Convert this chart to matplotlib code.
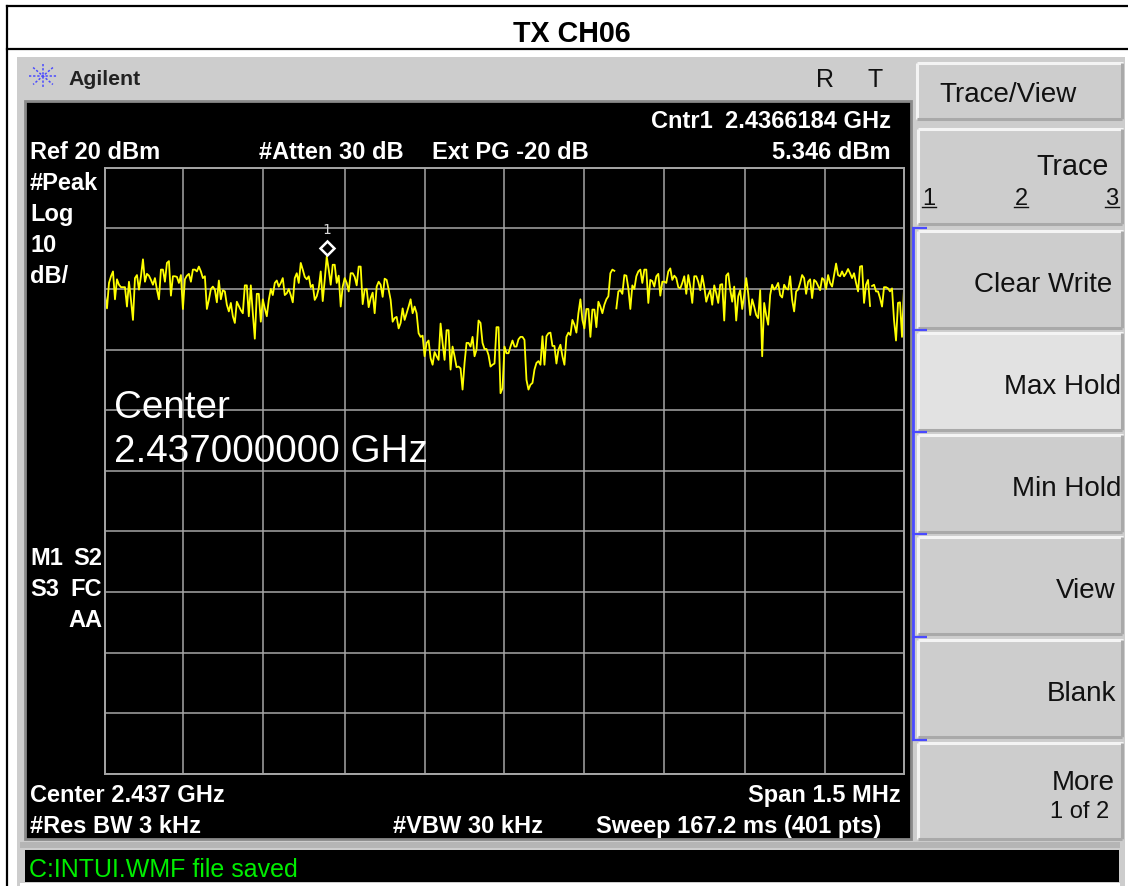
import numpy as np
import matplotlib
matplotlib.use('Agg')
import matplotlib.pyplot as plt
from matplotlib.patches import Rectangle
from matplotlib.transforms import ScaledTranslation

W, H = 1128, 887

# trace, dBm, one value per sweep point
trace_dbm = [
    -1.0, -3.2, 1.0, 2.1, 2.9, -1.7, 1.6, 0.7, 0.3, 0.3, 0.3, -2.9, 1.2, -1.8, -5.1, 1.8, 2.3, -0.1, 2.1, 4.9,
    1.2, 2.5, 2.2, 1.5, 0.7, 1.8, -0.1, -1.7, 3.2, 3.2, 1.2, 4.3, 4.6, -1.1, 2.1, 2.1, 2.0, 1.0, 2.3, -3.3,
    1.6, 2.2, 2.5, 1.2, 3.2, 3.2, 2.9, 3.7, 2.9, 1.8, 2.1, -3.3, -1.8, 0.0, 0.4, -0.1, -2.2, 1.4, -1.7, -0.2,
    -0.4, -2.6, -3.7, -2.3, -4.5, -5.6, -2.1, -2.8, -3.5, -4.0, 0.6, 0.6, -4.5, 0.6, -4.0, -8.2, -0.8, -0.8, -5.4, -1.7,
    -3.2, -4.5, -1.8, 0.0, -1.0, 1.0, 1.4, 0.4, 1.0, 1.8, -1.0, -0.7, 0.0, -1.0, -2.2, 1.8, 2.6, 1.0, 4.3, 3.2,
    2.0, 1.6, 2.1, 0.3, 0.7, -1.8, -1.2, 0.1, 2.9, -2.0, 1.5, 5.346, 3.2, 0.7, 4.0, 4.0, 1.0, 2.2, -2.9, 0.4,
    1.8, 1.0, -0.4, 2.6, 2.6, 2.0, 0.6, 3.7, 3.7, -2.5, -0.1, 0.0, -3.0, -1.5, -0.6, -4.0, 0.4, 1.2, 0.7, -1.3,
    1.7, 1.5, -0.1, -1.8, -5.4, -4.8, -4.6, -6.5, -5.6, -3.2, -5.1, -4.0, -2.9, -1.7, -4.0, -2.9, -4.0, -7.3, -7.9, -7.7,
    -11.1, -8.9, -8.5, -11.4, -12.5, -10.4, -11.1, -11.7, -5.7, -8.9, -11.7, -6.8, -6.8, -13.3, -9.5, -11.1, -12.9, -12.8, -13.1, -16.6,
    -12.2, -8.9, -8.9, -9.5, -7.9, -11.1, -10.0, -5.2, -5.6, -8.9, -9.9, -9.9, -10.9, -12.8, -12.5, -12.3, -6.3, -6.3, -17.2, -16.4,
    -9.5, -10.6, -10.6, -9.5, -8.5, -9.5, -9.5, -8.3, -7.9, -7.9, -8.4, -15.0, -16.6, -15.8, -15.5, -13.3, -12.2, -11.9, -12.5, -7.8,
    -12.5, -7.8, -7.3, -7.2, -9.4, -9.4, -12.3, -10.0, -9.2, -11.1, -12.5, -7.9, -7.2, -7.6, -5.1, -5.9, -7.2, -4.0, -1.7, -5.1,
    -6.5, -3.3, -3.3, -7.9, -3.4, -3.4, -6.3, -2.1, -2.9, -4.0, -2.6, -1.7, -1.2, 2.6, 3.2, 3.0, -3.2, -0.4, -0.2, -0.8,
    2.3, 2.2, 0.1, -3.3, 0.6, 0.0, 2.1, 2.9, 3.2, 1.0, 3.2, 3.2, -2.3, 1.5, 1.3, 0.4, 2.1, 2.5, -1.1, 1.2,
    1.2, 1.0, 2.9, 3.4, 1.5, 2.2, 1.8, 0.3, 0.1, 1.0, 2.1, -0.8, 2.3, 0.4, -2.3, 2.1, 2.1, 1.2, -0.2, 2.2,
    0.4, -2.1, -1.0, -0.2, -2.6, 0.6, -0.7, -2.3, 0.7, 0.8, -5.2, 2.2, 2.6, -0.1, -2.1, 0.4, -5.2, -1.2, -0.2, -3.3,
    -1.0, 1.8, -0.7, -4.3, -1.7, -2.9, -4.3, -4.8, -0.2, -11.1, -2.3, -4.3, -5.9, -1.0, 0.7, -0.1, 0.3, 1.0, -1.0, -1.4,
    0.7, 0.1, -0.1, 2.1, -1.8, -3.7, -0.4, -0.1, 1.0, 2.3, 1.8, -0.8, 1.2, 1.6, -1.5, 1.5, 1.2, 0.5, -0.2, 1.8,
    1.5, 0.0, 2.3, 1.0, 0.4, 2.3, 4.2, 2.3, 2.1, 2.9, 2.1, 2.6, 3.3, 2.6, 1.8, 2.6, 1.0, -0.4, 3.7, 3.8,
    -2.3, 0.7, 1.5, -2.8, 0.5, 0.7, -0.4, -0.4, -1.5, -2.9, 0.3, 0.3, 0.1, -0.4, 0.1, -5.1, -8.5, -2.3, -2.2, -7.9,
    0.1,
]
trace_breaks = [256, 384]
center_mhz = 2437.0
span_mhz = 1.5
ref_dbm = 20
db_per_div = 10
# vertical graticule in the picture is not quite even, in divisions from the left edge
grid_divs = [0.975, 1.975, 3.0, 4.0, 4.99, 5.99, 6.99, 8.01, 9.01]

softkeys = ['Clear Write', 'Max Hold', 'Min Hold', 'View', 'Blank']
softkey_tops = [232, 334, 436, 538, 641]
softkey_right = [1112, 1121, 1121, 1115, 1116]


def button(ax, x0, y0, x1, y1, face='#cdcdcd'):
    ax.add_patch(Rectangle((x0, y0), x1 - x0, y1 - y0, fc=face, ec='none'))
    ax.plot([x0, x1, x1], [y0, y0, y1], color='#f4f4f4', lw=2.2, solid_capstyle='butt')
    ax.plot([x0, x0], [y0, y1], color='#f4f4f4', lw=2.2, solid_capstyle='butt')
    ax.plot([x0, x1], [y1, y1], color='#a9a9a9', lw=2.2, solid_capstyle='butt')
    ax.plot([x1, x1], [y0, y1], color='#a9a9a9', lw=2.2, solid_capstyle='butt')


plt.rcParams['font.family'] = ['Liberation Sans', 'DejaVu Sans']

fig = plt.figure(figsize=(W / 100, H / 100), dpi=100, facecolor='white')

# page in pixel units
bg = fig.add_axes([0, 0, 1, 1])
bg.set_xlim(0, W)
bg.set_ylim(H, 0)
bg.axis('off')

# table frame and title
bg.plot([7, 7], [H, 7], color='black', lw=1.6)
bg.plot([7, W], [7, 7], color='black', lw=1.6)
bg.plot([7, W], [50, 50], color='black', lw=1.6)
bg.text(571.5, 42, 'TX CH06', ha='center', va='baseline', fontsize=20.6, fontweight='bold', color='black')

# instrument body
bg.add_patch(Rectangle((17, 58), W - 17 - 3, H - 58, fc='#cdcdcd', ec='none'))
bg.add_patch(Rectangle((25, 102), 886, 738, fc='black', ec='#8a8a8a', lw=2))
bg.add_patch(Rectangle((20, 843), 1100, 6, fc='#b5b5b5', ec='none'))
bg.add_patch(Rectangle((25, 851), 1094, 32, fc='black', ec='none'))
bg.add_patch(Rectangle((20, 884), 1100, 3, fc='white', ec='none'))

# logo
for ang in np.arange(0, 180, 45):
    dx, dy = np.cos(np.radians(ang)), np.sin(np.radians(ang))
    bg.plot([43 - 14 * dx, 43 + 14 * dx], [77 - 12 * dy, 77 + 12 * dy], color='#4a4aff', lw=1.1, ls=(0, (1.5, 1.2)))
bg.text(68, 85, 'Agilent', ha='left', va='baseline', fontsize=15.3, fontweight='bold', color='#222222')
bg.text(825, 87, 'R', ha='center', va='baseline', fontsize=18, color='#111111')
bg.text(875, 87, 'T', ha='center', va='baseline', fontsize=18, color='#111111')

# softkeys
button(bg, 917, 64, 1122, 120)
bg.text(939, 102, 'Trace/View', ha='left', va='baseline', fontsize=20, color='#111111')
button(bg, 918, 130, 1122, 225)
bg.text(1109, 175, 'Trace', ha='right', va='baseline', fontsize=20.6, color='#111111')
for label, xpos in zip(['1', '2', '3'], [929, 1021, 1112]):
    bg.text(xpos, 205, label, ha='center', va='baseline', fontsize=17, color='#111111')
    bg.plot([xpos - 7, xpos + 7], [208, 208], color='#111111', lw=1)
for label, top, right in zip(softkeys, softkey_tops, softkey_right):
    button(bg, 918, top, 1122, top + 97, face='#e2e2e2' if label == 'Max Hold' else '#cdcdcd')
    bg.text(right, top + 60, label, ha='right', va='baseline', fontsize=20, color='#111111')
button(bg, 918, 744, 1122, 840)
bg.text(1115, 790, 'More', ha='right', va='baseline', fontsize=20, color='#111111')
bg.text(1109, 818, '1 of 2', ha='right', va='baseline', fontsize=17, color='#111111')

# blue bracket down the softkeys
bg.plot([913, 913], [229, 741], color='#4a4aff', lw=2, solid_capstyle='butt')
for tick in [229, 331, 433, 535, 638, 741]:
    bg.plot([912, 927], [tick, tick], color='#4a4aff', lw=1.6, solid_capstyle='butt')

# screen annotations
bold = dict(va='baseline', fontsize=17, fontweight='bold', color='white')
bg.text(651, 128, 'Cntr1', ha='left', **bold)
bg.text(891, 128, '2.4366184 GHz', ha='right', **bold)
bg.text(30, 159, 'Ref 20 dBm', ha='left', **bold)
bg.text(259, 159, '#Atten 30 dB', ha='left', **bold)
bg.text(432, 159, 'Ext PG -20 dB', ha='left', **bold)
bg.text(891, 159, '5.346 dBm', ha='right', **bold)
bg.text(30, 190, '#Peak', ha='left', **bold)
bg.text(30, 221, 'Log', ha='left', **bold)
bg.text(30, 252, '10', ha='left', **bold)
bg.text(30, 283, 'dB/', ha='left', **bold)
bg.text(30, 565, 'M1', ha='left', **bold)
bg.text(102, 565, 'S2', ha='right', **bold)
bg.text(30, 596, 'S3', ha='left', **bold)
bg.text(102, 596, 'FC', ha='right', **bold)
bg.text(102, 627, 'AA', ha='right', **bold)
bg.text(30, 802, 'Center 2.437 GHz', ha='left', **bold)
bg.text(901, 802, 'Span 1.5 MHz', ha='right', **bold)
bg.text(30, 833, '#Res BW 3 kHz', ha='left', **bold)
bg.text(393, 833, '#VBW 30 kHz', ha='left', **bold)
bg.text(881, 833, 'Sweep 167.2 ms (401 pts)', ha='right', **bold)
bg.text(29, 877, 'C:INTUI.WMF file saved', ha='left', va='baseline', fontsize=18, color='#00ee00')

# trace graticule
ax = fig.add_axes([105 / W, 1 - 774.8 / H, 799 / W, 606 / H], facecolor='black')
freq = np.linspace(center_mhz - span_mhz / 2, center_mhz + span_mhz / 2, len(trace_dbm))
ax.set_xlim(freq[0], freq[-1])
ax.set_ylim(ref_dbm - 10 * db_per_div, ref_dbm)
ax.set_xticks(freq[0] + np.array(grid_divs) * span_mhz / 10)
ax.set_yticks(np.arange(ref_dbm - 10 * db_per_div, ref_dbm + 1, db_per_div))
ax.grid(True, color='#a6a6a6', lw=1.1)
ax.tick_params(left=False, bottom=False, labelleft=False, labelbottom=False)
for side in ax.spines.values():
    side.set_color('#a6a6a6')
    side.set_linewidth(1.4)
ax.set_axisbelow(True)

for f_part, y_part in zip(np.split(freq, trace_breaks), np.split(np.array(trace_dbm), trace_breaks)):
    ax.plot(f_part, y_part, color='#ffff00', lw=1.3, clip_on=False)

# marker sits just above the peak it reads
peak = int(np.argmax(trace_dbm))
ax.plot([freq[peak]], [trace_dbm[peak]], marker='D', ms=7.5, mfc='none', mec='white', mew=1.8,
        transform=ax.transData + ScaledTranslation(0, 9 / 100, fig.dpi_scale_trans))
ax.annotate('1', xy=(freq[peak], trace_dbm[peak]), xytext=(0, 24), textcoords='offset pixels', ha='center',
            va='baseline', fontsize=10, color='#d8d8d8', family='DejaVu Sans Mono')

# large overlay label
bg_over = fig.add_axes([0, 0, 1, 1])
bg_over.set_xlim(0, W)
bg_over.set_ylim(H, 0)
bg_over.axis('off')
bg_over.text(114, 418, 'Center', ha='left', va='baseline', fontsize=27.8, color='white')
bg_over.text(114, 462, '2.437000000 GHz', ha='left', va='baseline', fontsize=27.8, color='white')

fig.savefig('out.png', dpi=100, facecolor='white')
